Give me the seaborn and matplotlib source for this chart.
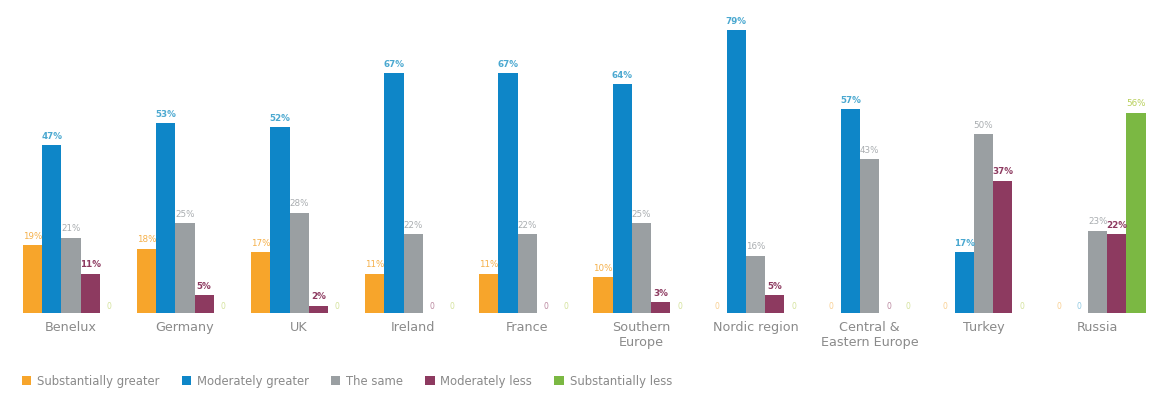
import matplotlib
matplotlib.use("Agg")
import matplotlib.pyplot as plt
from matplotlib.patches import Patch
import seaborn as sns
import pandas as pd

# Regions along the x axis
regions = ["Benelux", "Germany", "UK", "Ireland", "France", "Southern\nEurope",
           "Nordic region", "Central &\nEastern Europe", "Turkey", "Russia"]

# Share of respondents (%) per answer, one list per series
substantially_greater = [19, 18, 17, 11, 11, 10, 0, 0, 0, 0]
moderately_greater = [47, 53, 52, 67, 67, 64, 79, 57, 17, 0]
the_same = [21, 25, 28, 22, 22, 25, 16, 43, 50, 23]
moderately_less = [11, 5, 2, 0, 0, 3, 5, 0, 37, 22]
substantially_less = [0, 0, 0, 0, 0, 0, 0, 0, 0, 56]

series_names = ["Substantially greater", "Moderately greater", "The same",
                "Moderately less", "Substantially less"]
series_values = [substantially_greater, moderately_greater, the_same,
                 moderately_less, substantially_less]

colors = ["#f7a52b", "#0e86c8", "#9a9fa2", "#8d3a60", "#7bb843"]
label_colors = ["#f5b04a", "#4aa8d0", "#a9adb0", "#8d3a60", "#b8cf5a"]

rows = []
for name, vals in zip(series_names, series_values):
    for reg, v in zip(regions, vals):
        rows.append({"region": reg, "answer": name, "value": v})
df = pd.DataFrame(rows)

sns.set_theme(style="white")
plt.rcParams["font.family"] = ["DejaVu Sans"]

fig = plt.figure(figsize=(11.57, 3.95), dpi=100)
ax = fig.add_axes([0.012, 0.208, 0.986, 0.742])

sns.barplot(data=df, x="region", y="value", hue="answer", order=regions,
            hue_order=series_names, palette=colors, width=0.84, gap=0.0,
            saturation=1, legend=False, ax=ax, errorbar=None, linewidth=0)

# Value labels above each bar
for i, container in enumerate(ax.containers):
    for bar, v in zip(container, series_values[i]):
        x = bar.get_x() + bar.get_width() / 2
        if v > 0:
            ax.text(x, v + 1.2, f"{v}%", ha="center", va="bottom",
                    fontsize=6.3, color=label_colors[i],
                    fontweight="bold" if i in (1, 3) else "normal")
        else:
            ax.text(x, 0.6, "0", ha="center", va="bottom", fontsize=5.5,
                    color=label_colors[i], alpha=0.6)

ax.set_xlim(-0.5, len(regions) - 0.5)
ax.set_ylim(0, 82)
ax.set_xlabel("")
ax.set_ylabel("")
ax.set_yticks([])
ax.tick_params(axis="x", length=0, pad=6, labelsize=9.2, labelcolor="#8a8a8a")
for s in ax.spines.values():
    s.set_visible(False)

handles = [Patch(facecolor=c, edgecolor="none") for c in colors]
fig.legend(handles, series_names, loc="lower left", bbox_to_anchor=(0.01, -0.008),
           ncol=5, frameon=False, fontsize=8.4, labelcolor="#8a8a8a",
           handlelength=0.8, handleheight=0.9, handletextpad=0.5,
           columnspacing=1.9)

fig.savefig("out.png", dpi=100, facecolor="white")
